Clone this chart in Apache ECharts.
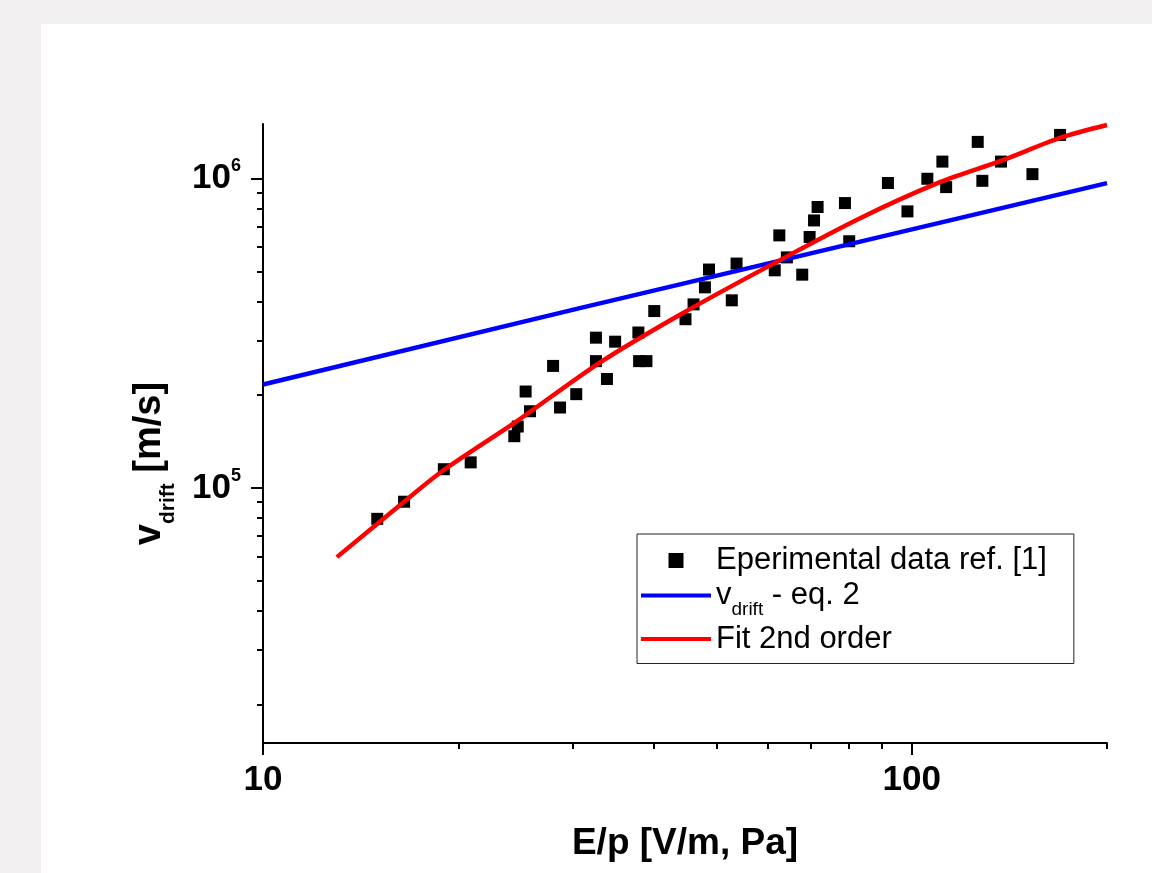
<!DOCTYPE html>
<html>
<head>
<meta charset="utf-8">
<title>drift velocity</title>
<script src="https://cdn.jsdelivr.net/npm/echarts@6/dist/echarts.min.js"></script>
<style>
html,body{margin:0;padding:0;background:#f2eff0;}
#main{position:absolute;left:41px;top:24px;width:1111px;height:849px;background:#fff;}
</style>
</head>
<body>
<div id="main"></div>
<script>
// experimental points, E/p [V/m, Pa] and v [m/s]
var expEp = [15.0, 16.5, 19.0, 20.9, 24.4, 24.7, 25.4, 25.8, 28.0, 28.7, 30.4, 32.6, 32.6, 33.9, 34.9,
    37.9, 38.0, 39.0, 40.1, 44.8, 46.1, 48.0, 48.7, 52.8, 53.7, 61.5, 62.5, 64.2, 67.8, 69.6,
    70.7, 71.6, 78.9, 80.1, 91.9, 98.5, 105.7, 111.5, 113.0, 126.4, 128.5, 137.3, 153.5, 169.3];
var expV = [79500, 90300, 115000, 121000, 147000, 158000, 205000, 177000, 248000, 182000, 201000, 306000, 257000, 225000, 297000,
    318000, 257000, 257000, 373000, 351000, 392000, 445000, 508000, 404000, 531000, 505000, 655000, 556000, 489000, 647000,
    732000, 809000, 833000, 627000, 967000, 783000, 998000, 1134000, 938000, 1313000, 983000, 1134000, 1033000, 1383000];

// eq. 2 line
var eqEp = [10, 30.9, 200];
var eqV = [216000, 382000, 966000];

// 2nd order fit
var fitEp = [13.0, 16.5, 19.0, 24.5, 33.1, 44.0, 59.9, 83.4, 110.8, 137.2, 169.7, 200];
var fitV = [59800, 90300, 114300, 163200, 254700, 363700, 518200, 745600, 975000, 1140000, 1355000, 1489000];

// ticks
var xMajor = [10, 100];
var xMinor = [20, 30, 40, 50, 60, 70, 80, 90, 200];
var yMajor = [1e5, 1e6];
var yMinor = [2e4, 3e4, 4e4, 5e4, 6e4, 7e4, 8e4, 9e4, 2e5, 3e5, 4e5, 5e5, 6e5, 7e5, 8e5, 9e5];

var legendNames = ['Eperimental data ref. [1]', 'vdrift - eq. 2', 'Fit 2nd order'];

function pairs(xs, ys) {
    return xs.map(function (x, i) { return [x, ys[i]]; });
}

var font = '"Liberation Sans", Arial, sans-serif';
var black = '#000';
var blue = '#0000ff';
var red = '#ff0000';
var lineIcon = 'path://M0,0L70,0L70,4L0,4Z';

var chart = echarts.init(document.getElementById('main'));

var option = {
    animation: false,
    textStyle: {fontFamily: font, color: black},
    grid: {left: 222, right: 45, top: 100, bottom: 130, containLabel: false},
    legend: {
        orient: 'vertical',
        left: 596,
        top: 510,
        itemWidth: 70,
        itemHeight: 15,
        itemGap: 4,
        padding: [11, 27, 9, 4],
        borderColor: '#222',
        borderWidth: 1,
        backgroundColor: '#fff',
        data: [
            {name: legendNames[0], icon: 'path://M0,0L10,0L10,10L0,10Z', itemStyle: {color: black, borderWidth: 0, opacity: 1}},
            {name: legendNames[1], icon: lineIcon, itemStyle: {color: blue, borderWidth: 0}},
            {name: legendNames[2], icon: lineIcon, itemStyle: {color: red, borderWidth: 0}}
        ],
        formatter: function (name) {
            if (name === legendNames[1]) {
                return '{b|v}{s|drift}{b| - eq. 2}';
            }
            return '{a|' + name + '}';
        },
        textStyle: {
            fontFamily: font,
            color: black,
            rich: {
                a: {fontSize: 31, lineHeight: 30, fontFamily: font, color: black, verticalAlign: 'middle'},
                b: {fontSize: 31, lineHeight: 48, fontFamily: font, color: black, verticalAlign: 'middle'},
                s: {fontSize: 19, lineHeight: 19, fontFamily: font, color: black, verticalAlign: 'bottom'}
            }
        }
    },
    xAxis: [
        {
            type: 'log',
            logBase: 10,
            min: 10,
            max: 200,
            position: 'bottom',
            name: 'E/p [V/m, Pa]',
            nameLocation: 'middle',
            nameGap: 82,
            nameTextStyle: {fontSize: 37, fontWeight: 'bold', color: black, fontFamily: font},
            axisLine: {show: true, lineStyle: {color: black, width: 2}},
            axisTick: {show: true, inside: false, length: 12, lineStyle: {color: black, width: 2}, customValues: xMajor},
            axisLabel: {
                customValues: xMajor,
                margin: 20,
                fontSize: 35,
                fontWeight: 'bold',
                color: black,
                fontFamily: font,
                formatter: function (v) { return String(Math.round(v)); }
            },
            splitLine: {show: false}
        },
        {
            type: 'log',
            logBase: 10,
            min: 10,
            max: 200,
            position: 'bottom',
            axisLine: {show: false},
            axisTick: {show: true, inside: false, length: 6, lineStyle: {color: black, width: 2}, customValues: xMinor},
            axisLabel: {show: false},
            splitLine: {show: false}
        }
    ],
    yAxis: [
        {
            type: 'log',
            logBase: 10,
            min: 15000,
            max: 1500000,
            position: 'left',
            name: '{v|v}{d|drift}{v| [m/s]}',
            nameLocation: 'middle',
            nameRotate: 90,
            nameGap: 84,
            nameTextStyle: {
                padding: [0, 60, 0, 0],
                rich: {
                    v: {fontSize: 38, fontWeight: 'bold', lineHeight: 59, verticalAlign: 'middle', color: black, fontFamily: font},
                    d: {fontSize: 21, fontWeight: 'bold', lineHeight: 21, verticalAlign: 'bottom', color: black, fontFamily: font}
                }
            },
            axisLine: {show: true, lineStyle: {color: black, width: 2}},
            axisTick: {show: true, inside: false, length: 12, lineStyle: {color: black, width: 2}, customValues: yMajor},
            axisLabel: {
                customValues: yMajor,
                margin: 22,
                formatter: function (v) {
                    return '{b|10}{s|' + Math.round(Math.log10(v)) + '}';
                },
                rich: {
                    b: {fontSize: 35, fontWeight: 'bold', lineHeight: 42, verticalAlign: 'middle', color: black, fontFamily: font},
                    s: {fontSize: 18, fontWeight: 'bold', lineHeight: 18, verticalAlign: 'top', color: black, fontFamily: font}
                }
            },
            splitLine: {show: false}
        },
        {
            type: 'log',
            logBase: 10,
            min: 15000,
            max: 1500000,
            position: 'left',
            offset: 0,
            axisLine: {show: false},
            axisTick: {show: true, inside: false, length: 6, lineStyle: {color: black, width: 2}, customValues: yMinor},
            axisLabel: {show: false},
            splitLine: {show: false}
        }
    ],
    series: [
        {
            name: legendNames[0],
            type: 'scatter',
            symbol: 'rect',
            symbolSize: 12,
            itemStyle: {color: black, opacity: 1},
            data: pairs(expEp, expV)
        },
        {
            name: legendNames[1],
            type: 'line',
            showSymbol: false,
            symbol: 'none',
            lineStyle: {color: blue, width: 4.5},
            itemStyle: {color: blue},
            data: pairs(eqEp, eqV)
        },
        {
            name: legendNames[2],
            type: 'line',
            showSymbol: false,
            symbol: 'none',
            smooth: 0.3,
            lineStyle: {color: red, width: 4.5},
            itemStyle: {color: red},
            data: pairs(fitEp, fitV)
        }
    ]
};

chart.setOption(option);
</script>
</body>
</html>
